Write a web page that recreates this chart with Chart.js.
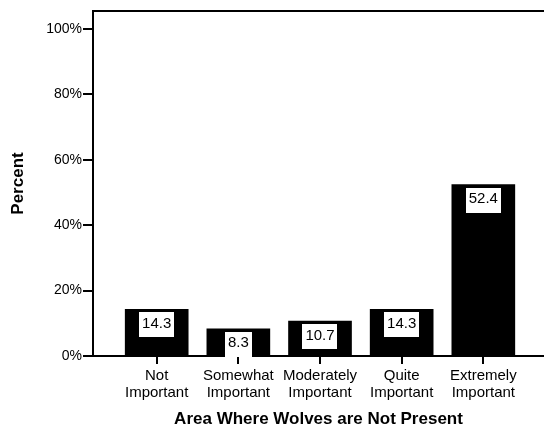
<!DOCTYPE html>
<html>
<head>
<meta charset="utf-8">
<script src="https://cdn.jsdelivr.net/npm/chart.js@4.4.1/dist/chart.umd.min.js"></script>
<style>
    body { margin: 0; background: #fff; }
    #wrap { width: 544px; height: 439px; }
</style>
</head>
<body>
<div id="wrap"><canvas id="wolvesChart"></canvas></div>
<script>
    // Chart data
    const categories = [
        ['Not', 'Important'],
        ['Somewhat', 'Important'],
        ['Moderately', 'Important'],
        ['Quite', 'Important'],
        ['Extremely', 'Important']
    ];
    const percents = [14.3, 8.3, 10.7, 14.3, 52.4];
    const valueLabels = ['14.3', '8.3', '10.7', '14.3', '52.4'];

    const fontFamily = "'Liberation Sans', Arial, sans-serif";

    // Top frame line (SPSS style box)
    const frameLine = {
        id: 'frameLine',
        afterDraw(chart) {
            const ctx = chart.ctx;
            const area = chart.chartArea;
            ctx.save();
            ctx.strokeStyle = '#000';
            ctx.lineWidth = 2;
            ctx.beginPath();
            ctx.moveTo(area.left - 1, area.top);
            ctx.lineTo(chart.width, area.top);
            ctx.stroke();
            ctx.restore();
        }
    };

    // White value boxes inside the top of each bar
    const valueBoxes = {
        id: 'valueBoxes',
        afterDatasetsDraw(chart) {
            const ctx = chart.ctx;
            const meta = chart.getDatasetMeta(0);
            ctx.save();
            ctx.font = '15px ' + fontFamily;
            ctx.textAlign = 'center';
            ctx.textBaseline = 'middle';
            meta.data.forEach((bar, i) => {
                const text = valueLabels[i];
                const w = ctx.measureText(text).width + 6;
                const h = 25;
                const top = bar.y + 3;
                ctx.fillStyle = '#fff';
                ctx.fillRect(Math.round(bar.x - w / 2), Math.round(top), Math.round(w), h);
                ctx.fillStyle = '#000';
                ctx.fillText(text, bar.x, top + h / 2 - 1);
            });
            ctx.restore();
        }
    };

    const ctx = document.getElementById('wolvesChart').getContext('2d');
    const wolvesChart = new Chart(ctx, {
        type: 'bar',
        data: {
            datasets: [{
                label: 'Percent',
                data: percents.map((v, i) => ({ x: i + 1, y: v })),
                backgroundColor: '#000',
                borderWidth: 0,
                barThickness: 63
            }]
        },
        options: {
            responsive: true,
            maintainAspectRatio: false,
            animation: false,
            layout: { padding: { top: 11, right: 0, left: 0, bottom: 0 } },
            plugins: {
                legend: { display: false },
                tooltip: { enabled: false }
            },
            scales: {
                x: {
                    type: 'linear',
                    min: 0.22,
                    max: 5.743,
                    offset: false,
                    afterFit: s => { s.height = 83; },
                    border: { display: true, color: '#000', width: 2 },
                    grid: {
                        offset: false,
                        drawOnChartArea: false,
                        drawTicks: true,
                        tickLength: 8,
                        color: '#000',
                        lineWidth: 2
                    },
                    ticks: {
                        stepSize: 1,
                        includeBounds: false,
                        autoSkip: false,
                        maxRotation: 0,
                        padding: 4,
                        color: '#000',
                        font: { family: fontFamily, size: 15, lineHeight: 1.1 },
                        callback: v => Number.isInteger(v) ? categories[v - 1] : ''
                    },
                    title: {
                        display: true,
                        text: 'Area Where Wolves are Not Present',
                        color: '#000',
                        font: { family: fontFamily, size: 17, weight: 'bold' },
                        padding: { top: 0, bottom: 9 }
                    }
                },
                y: {
                    min: 0,
                    max: 105.5,
                    afterFit: s => { s.width = 93; },
                    border: { display: true, color: '#000', width: 2 },
                    grid: {
                        drawOnChartArea: false,
                        drawTicks: true,
                        tickLength: 10,
                        color: '#000',
                        lineWidth: 2
                    },
                    ticks: {
                        stepSize: 20,
                        includeBounds: false,
                        padding: 1,
                        color: '#000',
                        font: { family: fontFamily, size: 14 },
                        callback: v => v + '%'
                    },
                    title: {
                        display: true,
                        text: 'Percent',
                        color: '#000',
                        font: { family: fontFamily, size: 17, weight: 'bold' },
                        padding: { top: 8, bottom: 0 }
                    }
                }
            }
        },
        plugins: [frameLine, valueBoxes]
    });
</script>
</body>
</html>
